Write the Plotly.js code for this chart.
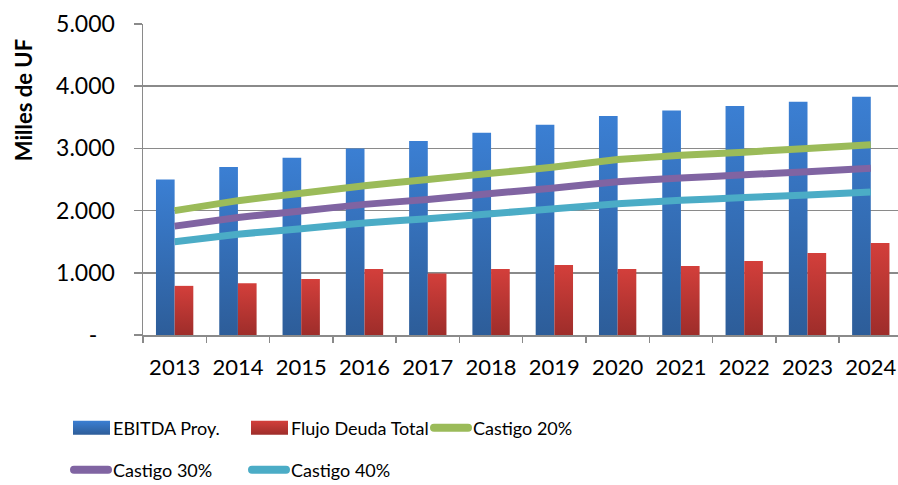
<!DOCTYPE html>
<html>
<head>
<meta charset="utf-8">
<script src="https://cdn.plot.ly/plotly-3.0.1.min.js"></script>
<style>
	body { margin: 0; background: #fff; }
	#chart { width: 898px; height: 485px; }
</style>
</head>
<body>
<div id="chart"></div>
<script>
const years = ["2013", "2014", "2015", "2016", "2017", "2018", "2019", "2020", "2021", "2022", "2023", "2024"];
const ebitda = [2500, 2700, 2850, 3000, 3120, 3250, 3380, 3520, 3610, 3680, 3750, 3830];
const flujoDeuda = [790, 830, 900, 1060, 990, 1060, 1125, 1060, 1110, 1190, 1320, 1480];
const castigo20 = [2000, 2160, 2280, 2400, 2500, 2600, 2700, 2820, 2890, 2940, 3000, 3060];
const castigo30 = [1750, 1890, 1995, 2100, 2180, 2275, 2365, 2465, 2525, 2575, 2625, 2680];
const castigo40 = [1500, 1620, 1710, 1800, 1870, 1950, 2030, 2110, 2165, 2210, 2250, 2300];
const yTicks = [0, 1000, 2000, 3000, 4000, 5000];
const yTickText = ["-\u00a0\u00a0\u00a0", "1.000", "2.000", "3.000", "4.000", "5.000"];

const font = "Lato, 'Open Sans', sans-serif";

const barTrace = (name, y, color, legend) => ({
	x: years,
	y: y,
	type: "bar",
	name: name,
	legend: legend,
	marker: { color: color },
	hoverinfo: "skip"
});

const lineTrace = (name, y, color, legend) => ({
	x: years,
	y: y,
	type: "scatter",
	mode: "lines",
	name: name,
	legend: legend,
	line: { color: color, width: 7, shape: "spline", smoothing: 0.2 },
	hoverinfo: "skip"
});

const traces = [
	barTrace("EBITDA Proy.", ebitda, "#3a7bcd", "legend"),
	barTrace("Flujo Deuda Total", flujoDeuda, "#c93a37", "legend"),
	lineTrace("Castigo 20%", castigo20, "#9bbb59", "legend3"),
	lineTrace("Castigo 30%", castigo30, "#8064a2", "legend2"),
	lineTrace("Castigo 40%", castigo40, "#4bacc6", "legend2")
];

const legendBase = {
	orientation: "h",
	xref: "container",
	yref: "container",
	x: 73 / 898,
	xanchor: "left",
	yanchor: "middle",
	entrywidth: 133,
	traceorder: "normal",
	font: { family: font, size: 18, color: "#000" },
	bgcolor: "rgba(0,0,0,0)"
};

const layout = {
	width: 898,
	height: 485,
	margin: { l: 143, r: 0, t: 24, b: 150 },
	barmode: "group",
	bargap: 0.41,
	bargroupgap: 0,
	showlegend: true,
	xaxis: {
		type: "category",
		range: [-0.5, 11.43],
		showgrid: false,
		showline: true,
		linecolor: "#8a8a8a",
		linewidth: 1.5,
		ticks: "outside",
		tickson: "boundaries",
		ticklen: 6,
		tickwidth: 1.5,
		tickcolor: "#8a8a8a",
		ticklabelstandoff: 12,
		tickfont: { family: font, size: 22, color: "#000" },
		fixedrange: true
	},
	yaxis: {
		range: [0, 5000],
		tickvals: yTicks,
		ticktext: yTickText,
		showgrid: true,
		gridcolor: "#8a8a8a",
		gridwidth: 1.5,
		showline: true,
		linecolor: "#8a8a8a",
		linewidth: 1.5,
		zeroline: false,
		ticks: "outside",
		ticklen: 8,
		tickwidth: 1.5,
		tickcolor: "#8a8a8a",
		ticklabelstandoff: 14,
		tickfont: { family: font, size: 23, color: "#000" },
		fixedrange: true
	},
	annotations: [{
		text: "<b>Milles de UF</b>",
		xref: "paper",
		yref: "paper",
		x: -0.159,
		y: 0.755,
		xanchor: "center",
		yanchor: "middle",
		textangle: -90,
		showarrow: false,
		font: { family: font, size: 22, color: "#000" }
	}],
	legend: { ...legendBase, y: 1 - 428 / 485 },
	legend2: { ...legendBase, y: 1 - 470 / 485 },
	legend3: { ...legendBase, x: 433 / 898, y: 1 - 428 / 485 },
	paper_bgcolor: "#fff",
	plot_bgcolor: "#fff"
};

// vertical gradient on the bars and wider legend keys, like the original spreadsheet chart
const restyleSvg = (gd) => {
	const svg = gd.querySelector(".main-svg");
	const ns = "http://www.w3.org/2000/svg";
	let defs = svg.querySelector("defs");
	const grads = [["gradBlue", "#3b7fd3", "#2d5d99"], ["gradRed", "#d33f3b", "#9e2d2a"]];
	grads.forEach(([id, top, bottom]) => {
		const g = document.createElementNS(ns, "linearGradient");
		g.setAttribute("id", id);
		g.setAttribute("x1", "0"); g.setAttribute("y1", "0");
		g.setAttribute("x2", "0"); g.setAttribute("y2", "1");
		[[0, top], [1, bottom]].forEach(([off, col]) => {
			const s = document.createElementNS(ns, "stop");
			s.setAttribute("offset", off);
			s.setAttribute("stop-color", col);
			g.appendChild(s);
		});
		defs.appendChild(g);
	});
	gd.querySelectorAll(".barlayer .trace").forEach((t, i) => {
		t.querySelectorAll("path").forEach(p => p.style.fill = `url(#${grads[i][0]})`);
	});
	gd.querySelectorAll(".infolayer .traces").forEach(t => {
		const name = t.textContent.trim();
		const idx = name === "EBITDA Proy." ? 0 : name === "Flujo Deuda Total" ? 1 : -1;
		if (idx >= 0) {
			t.querySelectorAll(".legendpoints path").forEach(p => {
				p.removeAttribute("transform");
				p.setAttribute("d", "M0,-7H37V7H0Z");
				p.style.fill = `url(#${grads[idx][0]})`;
				p.style.stroke = "none";
			});
		}
		t.querySelectorAll("path.js-line").forEach(p => {
			p.removeAttribute("transform");
			p.setAttribute("d", "M1,0h34");
			p.style.strokeLinecap = "round";
			p.style.strokeWidth = "8px";
		});
	});
	gd.querySelectorAll(".infolayer .scrollbox").forEach(s => s.removeAttribute("clip-path"));
};

Plotly.newPlot("chart", traces, layout, { displayModeBar: false, staticPlot: true })
	.then(restyleSvg);
</script>
</body>
</html>
